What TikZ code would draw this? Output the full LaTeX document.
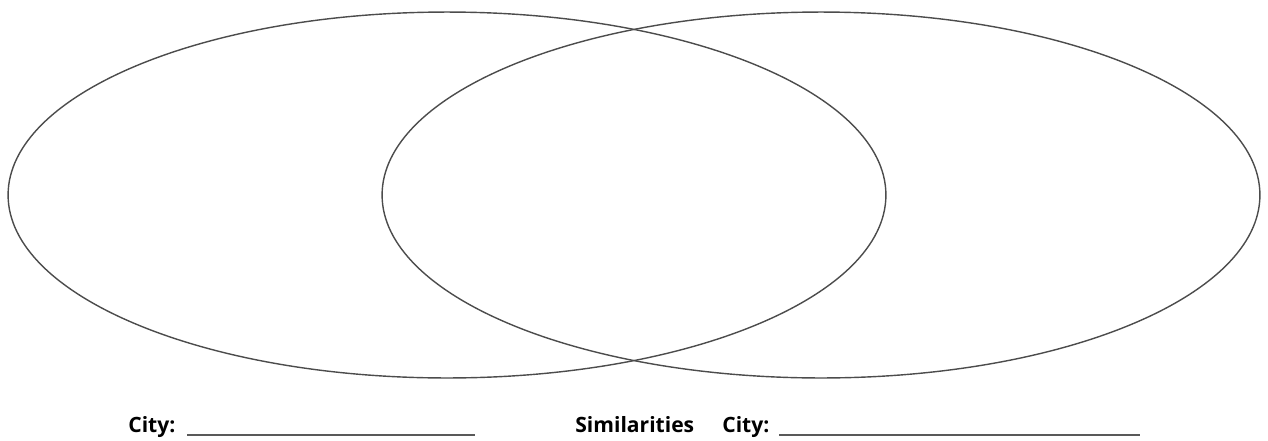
\documentclass[tikz,border=0pt]{standalone}
\usepackage{fontspec}
\setmainfont{Open Sans}
\usetikzlibrary{shapes.geometric,positioning}

\tikzset{
  cityset/.style={draw=black!70, ellipse, line width=0.8pt, inner sep=0pt,
    minimum width=17.56cm, minimum height=7.32cm},
  caption/.style={font=\bfseries\fontsize{12}{14}\selectfont, inner sep=0pt, anchor=base west},
  blank/.style={draw=black!65, line width=0.6pt}
}

\begin{document}
\begin{tikzpicture}[x=0.02cm,y=-0.02cm]
  \useasboundingbox (0,0) rectangle (1268,440);

  % the two sets
  \node[cityset] (cityone) at (447,195) {};
  \node[cityset] (citytwo) at (821,195) {};

  % captions
  \node[caption] (labelone) at (128,432) {City:};
  \node[caption] (similar) at (575,432) {Similarities};
  \node[caption] (labeltwo) at (722,432) {City:};

  % lines to write on
  \coordinate (startone) at (187,435);
  \coordinate (endone) at (475,435);
  \coordinate (starttwo) at (779,435);
  \coordinate (endtwo) at (1140,435);
  \draw[blank] (startone) -- (endone);
  \draw[blank] (starttwo) -- (endtwo);
\end{tikzpicture}
\end{document}
